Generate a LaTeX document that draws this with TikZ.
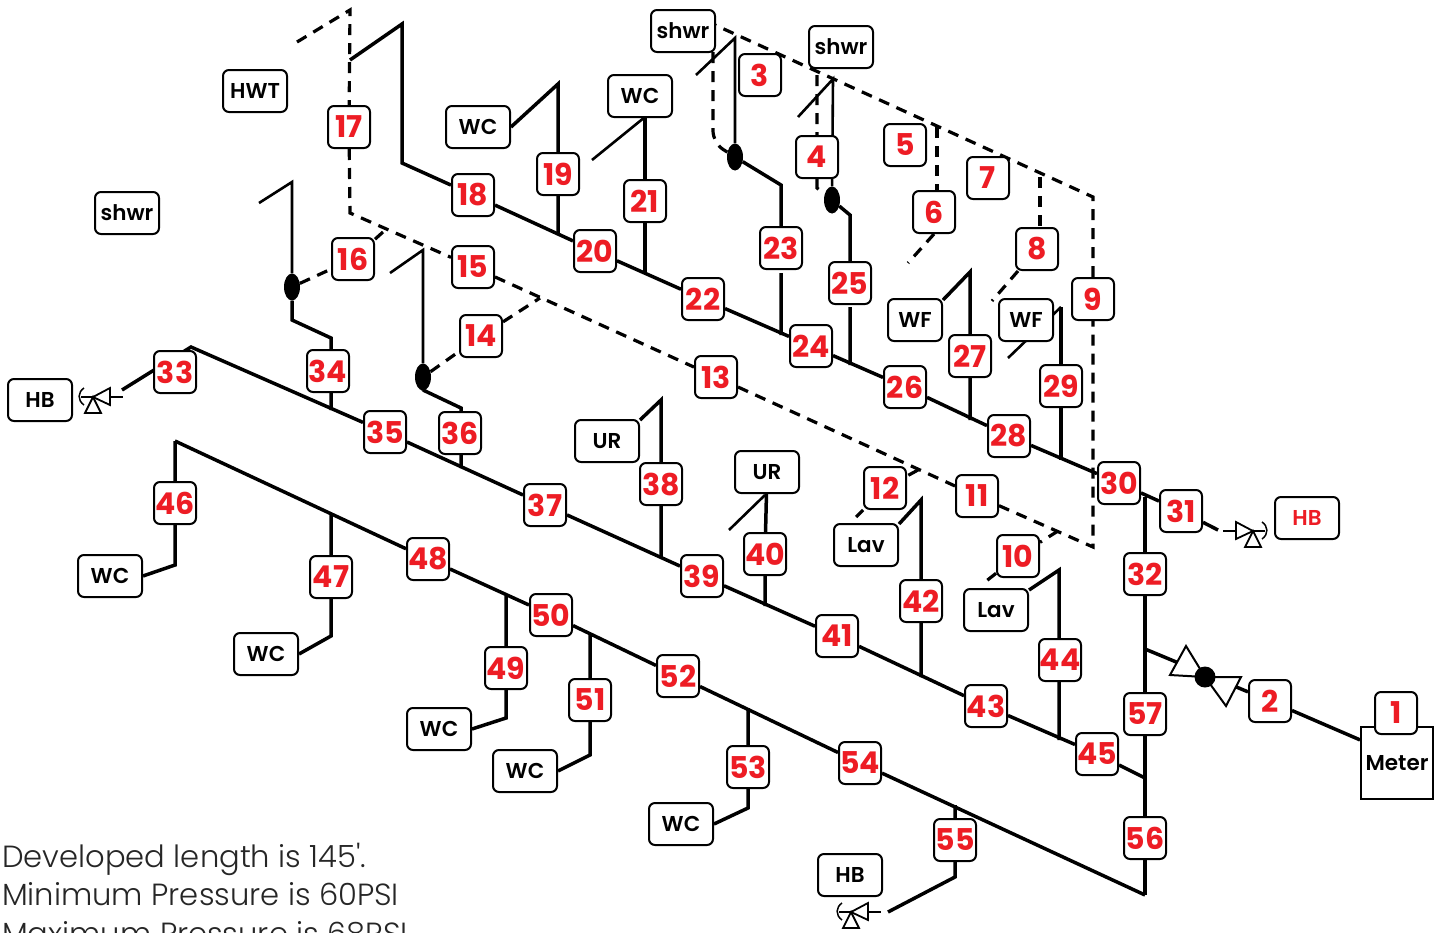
\documentclass[tikz,border=0pt]{standalone}
\usepackage{fontspec}
\setmainfont{Poppins}
\newfontfamily\labelfont{Poppins SemiBold}
\newfontfamily\numfont{Poppins}[BoldFont=Poppins Bold]
\newfontfamily\notefont{Poppins Light}
\usetikzlibrary{shapes.geometric,backgrounds}
\definecolor{numred}{HTML}{ED1C24}
\tikzset{
  numbox/.style={draw=black,line width=2pt,fill=white,rounded corners=6pt,minimum width=42pt,minimum height=42pt,inner sep=0pt,text=numred,font=\numfont\bfseries\fontsize{30}{30}\selectfont},
  fixbox/.style={draw=black,line width=2pt,fill=white,rounded corners=6pt,minimum width=64pt,minimum height=42pt,inner sep=0pt,font=\labelfont\fontsize{21.5}{22}\selectfont},
  pipe/.style={line width=3.5pt,line join=miter},
  riser/.style={line width=2.6pt},
  dashpipe/.style={line width=3.2pt,dash pattern=on 11pt off 8pt},
  valvedot/.style={ellipse,fill=black,minimum width=16pt,minimum height=27pt,inner sep=0pt},
  notetext/.style={anchor=base west,inner sep=0pt,text=black!85,font=\notefont\fontsize{30.6}{31}\selectfont},
  spigot/.pic={
    \draw[line width=1.8pt,fill=white] (17,-9) -- (17,8) -- (0,0) -- cycle;
    \draw[line width=1.8pt,fill=white] (0,0) -- (-8,16) -- (8,16) -- cycle;
    \draw[line width=1.8pt] (17,0) -- (30,0);
    \draw[line width=1.8pt] (0,0) -- (-12,0);
    \draw[line width=1.5pt] (-9,-9) .. controls (-15,-5) and (-16,3) .. (-9,8);
  }
}
\begin{document}
\begin{tikzpicture}[x=1pt,y=-1pt]
\useasboundingbox (0,0) rectangle (1442,932);

% fixtures
\node[fixbox] (hwt) at (255,91) {HWT};
\node[fixbox] (shwrA) at (127,213) {shwr};
\node[fixbox] (shwrB) at (683,31) {shwr};
\node[fixbox] (shwrC) at (841,47) {shwr};
\node[fixbox] (wcA) at (478,127) {WC};
\node[fixbox] (wcB) at (640,96) {WC};
\node[fixbox,minimum width=54pt] (wfA) at (915,320) {WF};
\node[fixbox,minimum width=54pt] (wfB) at (1026,320) {WF};
\node[fixbox] (urA) at (607,441) {UR};
\node[fixbox] (urB) at (767,472) {UR};
\node[fixbox] (lavA) at (866,545) {Lav};
\node[fixbox] (lavB) at (996,610) {Lav};
\node[fixbox] (hbA) at (40,400) {HB};
\node[fixbox,text=numred] (hbB) at (1307,518) {HB};
\node[fixbox] (hbC) at (850,875) {HB};
\node[fixbox] (wcC) at (110,576) {WC};
\node[fixbox] (wcD) at (266,654) {WC};
\node[fixbox] (wcE) at (439,729) {WC};
\node[fixbox] (wcF) at (525,771) {WC};
\node[fixbox] (wcG) at (681,824) {WC};
\node[draw=black,line width=2pt,fill=white,minimum width=72pt,minimum height=72pt,inner sep=0pt,font=\labelfont\fontsize{21.5}{22}\selectfont] (meter) at (1397,763) {Meter};

% pipe section numbers
\node[numbox] (n1) at (1396,713) {1};
\node[numbox] (n2) at (1270,701) {2};
\node[numbox] (n3) at (760,75) {3};
\node[numbox] (n4) at (817,157) {4};
\node[numbox] (n5) at (905,145) {5};
\node[numbox] (n6) at (934,212) {6};
\node[numbox] (n7) at (988,178) {7};
\node[numbox] (n8) at (1037,249) {8};
\node[numbox] (n9) at (1093,299) {9};
\node[numbox] (n10) at (1018,556) {10};
\node[numbox] (n11) at (977,496) {11};
\node[numbox] (n12) at (885,488) {12};
\node[numbox] (n13) at (716,377) {13};
\node[numbox] (n14) at (481,336) {14};
\node[numbox] (n15) at (473,267) {15};
\node[numbox] (n16) at (353,259) {16};
\node[numbox] (n17) at (349,127) {17};
\node[numbox] (n18) at (473,195) {18};
\node[numbox] (n19) at (558,174) {19};
\node[numbox] (n20) at (595,251) {20};
\node[numbox] (n21) at (645,201) {21};
\node[numbox] (n22) at (703,299) {22};
\node[numbox] (n23) at (781,248) {23};
\node[numbox] (n24) at (811,346) {24};
\node[numbox] (n25) at (850,283) {25};
\node[numbox] (n26) at (905,387) {26};
\node[numbox] (n27) at (970,356) {27};
\node[numbox] (n28) at (1009,436) {28};
\node[numbox] (n29) at (1061,386) {29};
\node[numbox] (n30) at (1119,483) {30};
\node[numbox] (n31) at (1181,511) {31};
\node[numbox] (n32) at (1145,574) {32};
\node[numbox] (n33) at (175,372) {33};
\node[numbox] (n34) at (328,371) {34};
\node[numbox] (n35) at (385,432) {35};
\node[numbox] (n36) at (460,433) {36};
\node[numbox] (n37) at (545,505) {37};
\node[numbox] (n38) at (661,484) {38};
\node[numbox] (n39) at (702,576) {39};
\node[numbox] (n40) at (765,554) {40};
\node[numbox] (n41) at (837,636) {41};
\node[numbox] (n42) at (921,601) {42};
\node[numbox] (n43) at (986,706) {43};
\node[numbox] (n44) at (1060,660) {44};
\node[numbox] (n45) at (1097,754) {45};
\node[numbox] (n46) at (175,503) {46};
\node[numbox] (n47) at (331,577) {47};
\node[numbox] (n48) at (428,559) {48};
\node[numbox] (n49) at (506,668) {49};
\node[numbox] (n50) at (551,615) {50};
\node[numbox] (n51) at (590,700) {51};
\node[numbox] (n52) at (678,676) {52};
\node[numbox] (n53) at (748,767) {53};
\node[numbox] (n54) at (860,763) {54};
\node[numbox] (n55) at (955,840) {55};
\node[numbox] (n56) at (1145,838) {56};
\node[numbox] (n57) at (1145,714) {57};

% tees with their ball valves
\node[valvedot] (dotA) at (735,157) {};
\node[valvedot] (dotB) at (832,200) {};
\node[valvedot] (dotC) at (292,287) {};
\node[valvedot] (dotD) at (423,377) {};

% free ends
\coordinate (endA) at (297,42);
\coordinate (cornerA) at (350,10);
\coordinate (cornerB) at (350,213);
\coordinate (cornerC) at (1093,547);
\coordinate (cornerD) at (1093,197);
\coordinate (cornerE) at (715,25);
\coordinate (branchA) at (402,24);
\coordinate (branchB) at (402,163);
\coordinate (branchC) at (350,60);
\coordinate (teeA) at (1145,497);
\coordinate (teeB) at (1145,895);
\coordinate (teeC) at (1145,778);
\coordinate (teeD) at (1145,649);
\coordinate (lineC) at (191,347);
\coordinate (lineB) at (175,441);

\begin{scope}[on background layer]
% hot water main
\draw[pipe] (branchC) -- (branchA) -- (branchB) -- (n18) -- (n20) -- (n22) -- (n24) -- (n26) -- (n28) -- (n30) -- (n31);
\draw[pipe] (n31) -- (1218,530);
\draw[pipe] (teeA) -- (n32) -- (n57) -- (n56) -- (teeB);
\draw[pipe] (teeD) -- (n2) -- (meter.148.6);
% cold water mains
\draw[pipe] (122,390) -- (lineC) -- (n35) -- (n37) -- (n39) -- (n41) -- (n43) -- (n45) -- (teeC);
\draw[pipe] (lineB) -- (n48) -- (n50) -- (n52) -- (n54) -- (teeB);
% recirc line
\draw[dashpipe] (endA) -- (cornerA) -- (n17) -- (cornerB) -- (n15) -- (n13) -- (n11) -- (cornerC) -- (n9) -- (cornerD) -- (cornerE);
% upper risers
\draw[pipe] (wcA.east) -- (558,84) -- (n19) -- (558,235);
\draw[pipe] (645,117) -- (n21) -- (645,273);
\draw[riser] (592,160) -- (645,117);
\draw[riser] (696,75) -- (735,38) -- (dotA);
\draw[pipe,shorten <=3pt] (dotA) -- (781,185) -- (n23) -- (781,335);
\draw[dashpipe,rounded corners=12pt] (713,52) -- (713,143) -- (dotA);
\draw[riser] (798,117) -- (833,79) -- (dotB);
\draw[pipe,shorten <=2pt] (dotB) -- (850,215) -- (n25) -- (850,365);
\draw[dashpipe] (817,75) -- (n4) -- (817,188) -- (dotB);
\draw[dashpipe] (937,127) -- (937,192);
\draw[dashpipe] (n6.south) -- (908,263);
\draw[dashpipe] (1040,177) -- (1040,230);
\draw[dashpipe] (n8) -- (992,301);
\draw[pipe] (wfA.east) ++(0,-20) -- (970,272) -- (n27) -- (970,420);
\draw[pipe] (1061,307) -- (n29) -- (1061,460);
\draw[riser] (1008,358) -- (1061,307);
% lower risers
\draw[riser] (259,203) -- (292,182) -- (dotC);
\draw[pipe] (dotC) -- (292,320) -- (331,338) -- (331,410);
\draw[dashpipe] (dotC) -- (n16) -- (383,232);
\draw[riser] (390,273) -- (423,250) -- (dotD);
\draw[pipe] (dotD) -- (423,390) -- (461,408) -- (461,468);
\draw[dashpipe] (dotD) -- (n14) -- (540,298);
\draw[pipe] (urA.east) ++(0,-21) -- (661,400) -- (n38) -- (661,558);
\draw[pipe] (urB) -- (n40) -- (765,606);
\draw[riser] (729,530) -- (765,495);
\draw[pipe] (lavA.east) ++(0,-21) -- (921,500) -- (n42) -- (921,677);
\draw[dashpipe] (918,470) -- (n12) -- (856,517);
\draw[pipe] (lavB.east) ++(0,-20) -- (1059,570) -- (1059,740);
\draw[dashpipe] (1058,531) -- (n10) -- (985,582);
% bottom risers
\draw[pipe] (lineB) -- (n46) -- (175,565) -- (wcC.east);
\draw[pipe] (331,513) -- (n47) -- (331,636) -- (wcD.east);
\draw[pipe] (506,596) -- (n49) -- (506,718) -- (wcE.east);
\draw[pipe] (590,635) -- (n51) -- (590,755) -- (wcF.east);
\draw[pipe] (748,708) -- (n53) -- (748,808) -- (wcG.east);
\draw[pipe] (955,805) -- (n55) -- (955,877) -- (888,912);
\end{scope}

% main valve
\draw[line width=2pt,fill=white] (1170,675) -- (1186,646) -- (1205,677) -- cycle;
\draw[line width=2pt,fill=white] (1205,677) -- (1241,677) -- (1226,706) -- cycle;
\node[circle,fill=black,minimum size=21pt,inner sep=0pt] (mainvalve) at (1205,677) {};

% hose bibbs
\pic at (93,397) {spigot};
\pic[xscale=-1] at (1253,531) {spigot};
\pic at (851,912) {spigot};

% notes
\node[notetext] (noteA) at (2,867) {Developed length is 145'.};
\node[notetext] (noteB) at (2,905) {Minimum Pressure is 60PSI};
\node[notetext] (noteC) at (2,944) {Maximum Pressure is 68PSI};
\end{tikzpicture}
\end{document}
